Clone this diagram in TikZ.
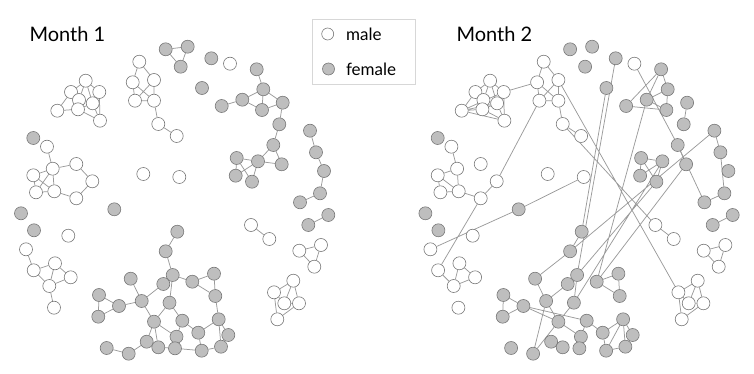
\documentclass[tikz,border=0pt]{standalone}
\usepackage{fontspec}
\setmainfont{Lato}
\usetikzlibrary{positioning}
\definecolor{femalegray}{RGB}{190,190,190}
\definecolor{rimgray}{RGB}{120,120,120}
\definecolor{linkgray}{RGB}{155,155,155}
\definecolor{boxgray}{RGB}{215,215,215}
\pgfdeclarelayer{bg}
\pgfsetlayers{bg,main}

% the same people in both months
\newcommand{\monthnodes}{%
  \node[male] (a1) at (85.7,80.7) {};
  \node[male] (a2) at (71,92) {};
  \node[male] (a3) at (99.3,92) {};
  \node[male] (a4) at (79,100) {};
  \node[male] (a5) at (92.7,103.3) {};
  \node[male] (a6) at (57.3,110.7) {};
  \node[male] (a7) at (78,109.3) {};
  \node[male] (a8) at (100,120.7) {};
  \node[male] (b1) at (139.3,61.7) {};
  \node[male] (b2) at (132.7,82.3) {};
  \node[male] (b3) at (154,80) {};
  \node[male] (b4) at (135,100.7) {};
  \node[male] (b5) at (154,100.7) {};
  \node[male] (b6) at (158.3,124) {};
  \node[male] (b7) at (176.7,136) {};
  \node[female] (t1) at (165.7,49.3) {};
  \node[female] (t2) at (187.7,46.7) {};
  \node[female] (t3) at (180.7,66.7) {};
  \node[female] (i1) at (211.3,58.3) {};
  \node[male] (i2) at (230,63.7) {};
  \node[female] (i3) at (202,88) {};
  \node[male] (i4) at (143.3,174) {};
  \node[male] (i5) at (179.3,177) {};
  \node[female] (i6) at (114.3,209.3) {};
  \node[female] (i7) at (21,213.3) {};
  \node[female] (i8) at (34,230.3) {};
  \node[male] (i9) at (68.3,235.7) {};
  \node[female] (i10) at (33.3,138) {};
  \node[female] (c1) at (256.7,69.3) {};
  \node[female] (c2) at (263.3,89.3) {};
  \node[female] (c3) at (242.3,99.7) {};
  \node[female] (c4) at (221.7,106) {};
  \node[female] (c5) at (262,110) {};
  \node[female] (c6) at (282.7,102.7) {};
  \node[female] (c7) at (279.3,124.3) {};
  \node[female] (c8) at (273.3,145) {};
  \node[female] (c9) at (236.7,158) {};
  \node[female] (c10) at (258,161.3) {};
  \node[female] (c11) at (281.7,164.3) {};
  \node[female] (c12) at (235.7,175.7) {};
  \node[female] (c13) at (252,181.7) {};
  \node[female] (r1) at (310,130.7) {};
  \node[female] (r2) at (316,152.3) {};
  \node[female] (r3) at (324,171) {};
  \node[female] (r4) at (320,193.3) {};
  \node[female] (r5) at (300,202.3) {};
  \node[female] (r6) at (308.3,225) {};
  \node[female] (r7) at (328.3,215) {};
  \node[male] (w1) at (251,225) {};
  \node[male] (w2) at (269.3,239) {};
  \node[male] (w3) at (299.3,250.7) {};
  \node[male] (w4) at (321,245) {};
  \node[male] (w5) at (314.3,266.7) {};
  \node[male] (w6) at (293.3,280.7) {};
  \node[male] (w7) at (274,292.3) {};
  \node[male] (w8) at (284.3,303.3) {};
  \node[male] (w9) at (299,303.3) {};
  \node[male] (w10) at (277.3,319.3) {};
  \node[male] (l1) at (47,146.7) {};
  \node[male] (l2) at (52.7,168.7) {};
  \node[male] (l3) at (76.3,164) {};
  \node[male] (l4) at (92.3,181.3) {};
  \node[male] (l5) at (33.3,175.3) {};
  \node[male] (l6) at (36,192.3) {};
  \node[male] (l7) at (54.3,191.3) {};
  \node[male] (l8) at (76.3,198.3) {};
  \node[male] (m1) at (26,249.3) {};
  \node[male] (m2) at (33.7,270.3) {};
  \node[male] (m3) at (55,263.3) {};
  \node[male] (m4) at (70.7,277.3) {};
  \node[male] (m5) at (49.3,286) {};
  \node[male] (m6) at (54,307.7) {};
  \node[female] (g1) at (177.3,231.7) {};
  \node[female] (g2) at (165.7,251.3) {};
  \node[female] (g3) at (172.7,275) {};
  \node[female] (g4) at (130.7,278.7) {};
  \node[female] (g5) at (163.3,284) {};
  \node[female] (g6) at (192.3,281.7) {};
  \node[female] (g7) at (214,273.7) {};
  \node[female] (g8) at (215.3,296) {};
  \node[female] (g9) at (99,295) {};
  \node[female] (g10) at (119,306) {};
  \node[female] (g11) at (141.7,301) {};
  \node[female] (g12) at (169.5,302.7) {};
  \node[female] (g13) at (98.3,316.7) {};
  \node[female] (g14) at (154,321.7) {};
  \node[female] (g15) at (182.3,320.7) {};
  \node[female] (g16) at (218.7,319.3) {};
  \node[female] (g17) at (176.5,336.7) {};
  \node[female] (g18) at (198.3,332.7) {};
  \node[female] (g19) at (228.3,335) {};
  \node[female] (g20) at (146.7,341.7) {};
  \node[female] (g21) at (158.3,347.3) {};
  \node[female] (g22) at (175,348.3) {};
  \node[female] (g23) at (201.7,350.7) {};
  \node[female] (g24) at (221,346.7) {};
  \node[female] (g25) at (106.7,348) {};
  \node[female] (g26) at (128.7,353.7) {};
}

\begin{document}
\begin{tikzpicture}[x=1pt,y=-1pt]
  \tikzstyle{male}=[circle, draw=rimgray, fill=white, line width=0.6pt,
minimum size=13pt, inner sep=0pt]
  \tikzstyle{female}=[male, fill=femalegray]
  \tikzstyle{link}=[draw=linkgray, line width=0.75pt]
  \useasboundingbox (0,0) rectangle (754,374);

  % titles
  \node[anchor=west, font=\fontsize{20}{24}\selectfont] (title1) at (26,34) {Month 1};
  \node[anchor=west, font=\fontsize{20}{24}\selectfont] (title2) at (453,34) {Month 2};

  % legend
  \node[draw=boxgray, line width=0.6pt, minimum width=103pt, minimum height=65pt] (legend) at (363.4,51.5) {};
  \node[male, minimum size=12pt] (keymale) at (327.7,34) {};
  \node[female, minimum size=12pt] (keyfemale) at (328.5,69) {};
  \node[right=12pt of keymale, font=\fontsize{17}{20}\selectfont, inner sep=0pt] (malelabel) {male};
  \node[right=11pt of keyfemale, font=\fontsize{17}{20}\selectfont, inner sep=0pt] (femalelabel) {female};

  % month 1
  \begin{scope}[name prefix=one-]
    \monthnodes
    \begin{pgfonlayer}{bg}
      \draw[link] (a1) -- (a2) (a1) -- (a3) (a1) -- (a4) (a1) -- (a5) (a2) -- (a4)
        (a2) -- (a6) (a2) -- (a7) (a3) -- (a5) (a3) -- (a8) (a4) -- (a5) (a4) -- (a7)
        (a5) -- (a7) (a6) -- (a7) (a7) -- (a8) (a5) -- (a8);
      \draw[link] (b1) -- (b2) (b1) -- (b3) (b2) -- (b4) (b2) -- (b5) (b3) -- (b4)
        (b3) -- (b5) (b4) -- (b5) (b5) -- (b6) (b6) -- (b7);
      \draw[link] (t1) -- (t2) -- (t3) -- (t1);
      \draw[link] (c1) -- (c2) (c4) -- (c3) (c3) -- (c2) (c3) -- (c5) (c2) -- (c5)
        (c2) -- (c6) (c5) -- (c6) (c6) -- (c7) (c7) -- (c8) (c8) -- (c10) (c8) -- (c11)
        (c10) -- (c11) (c9) -- (c10) (c9) -- (c12) (c9) -- (c13) (c12) -- (c10) (c10) -- (c13);
      \draw[link] (r1) -- (r2) -- (r3) -- (r4) -- (r5) (r6) -- (r7);
      \draw[link] (w1) -- (w2) (w3) -- (w4) (w3) -- (w5) (w4) -- (w5) (w7) -- (w6)
        (w6) -- (w8) (w6) -- (w9) (w7) -- (w8) (w7) -- (w10) (w10) -- (w9) (w8) -- (w9);
      \draw[link] (l1) -- (l2) -- (l3) -- (l4) -- (l8) -- (l7) (l2) -- (l5) (l2) -- (l6)
        (l2) -- (l7) (l5) -- (l6) (l5) -- (l7) (l6) -- (l7);
      \draw[link] (m1) -- (m2) (m2) -- (m3) (m2) -- (m5) (m3) -- (m4) (m3) -- (m5)
        (m4) -- (m5) (m5) -- (m6);
      \draw[link] (g1) -- (g2) -- (g3) -- (g5) -- (g11) (g4) -- (g11) (g11) -- (g10)
        (g9) -- (g10) (g9) -- (g13) (g13) -- (g10) (g11) -- (g14) (g12) -- (g14)
        (g3) -- (g12) (g3) -- (g6) (g6) -- (g7) (g6) -- (g8) (g7) -- (g8) (g8) -- (g16)
        (g12) -- (g15) (g15) -- (g17) (g15) -- (g18) (g18) -- (g16) (g16) -- (g24)
        (g16) -- (g19) (g18) -- (g23) (g23) -- (g24) (g24) -- (g19) (g14) -- (g20)
        (g14) -- (g21) (g14) -- (g17) (g20) -- (g26) (g25) -- (g26) (g20) -- (g21)
        (g21) -- (g22) (g22) -- (g23);
    \end{pgfonlayer}
  \end{scope}

  % month 2
  \begin{scope}[xshift=404.4pt, name prefix=two-]
    \monthnodes
    \begin{pgfonlayer}{bg}
      \draw[link] (a1) -- (a2) (a1) -- (a3) (a1) -- (a4) (a1) -- (a5) (a2) -- (a4)
        (a2) -- (a6) (a2) -- (a7) (a3) -- (a5) (a3) -- (a8) (a4) -- (a5) (a4) -- (a7)
        (a5) -- (a7) (a6) -- (a7) (a7) -- (a8) (a5) -- (a8) (a6) -- (a3) (a6) -- (a5)
        (a6) -- (a8);
      \draw[link] (b1) -- (b2) (b1) -- (b3) (b2) -- (b4) (b2) -- (b5) (b3) -- (b4)
        (b3) -- (b5) (b4) -- (b5) (b5) -- (b6) (b6) -- (b7);
      \draw[link] (c1) -- (c4) (c1) -- (c3) (c1) -- (c2) (c2) -- (c3) (c4) -- (c5)
        (c3) -- (c5) (c2) -- (c5) (c6) -- (c7) (c8) -- (c11) (c9) -- (c10) (c9) -- (c12)
        (c10) -- (c12) (c9) -- (c13) (c10) -- (c13);
      \draw[link] (r1) -- (r2) -- (r4) -- (r5) (r6) -- (r7);
      \draw[link] (w1) -- (w2) (w3) -- (w4) (w3) -- (w5) (w4) -- (w5) (w7) -- (w6)
        (w6) -- (w8) (w6) -- (w9) (w7) -- (w8) (w7) -- (w10) (w10) -- (w9) (w8) -- (w9);
      \draw[link] (l1) -- (l2) (l2) -- (l5) (l2) -- (l7) (l5) -- (l7) (l5) -- (l6)
        (l6) -- (l7) (l7) -- (l8) -- (l4);
      \draw[link] (m2) -- (m5) (m3) -- (m4) (m3) -- (m5) (m4) -- (m5);
      \draw[link] (g1) -- (g2) -- (g4) -- (g11) -- (g5) (g9) -- (g10) (g9) -- (g13)
        (g13) -- (g10) (g10) -- (g14) (g10) -- (g15) (g11) -- (g14) (g11) -- (g26)
        (g12) -- (g14) (g3) -- (g12) (g14) -- (g26) (g14) -- (g17) (g15) -- (g17)
        (g15) -- (g18) (g18) -- (g16) (g16) -- (g23) (g18) -- (g23) (g16) -- (g24)
        (g16) -- (g19) (g19) -- (g24) (g23) -- (g24) (g17) -- (g22) (g20) -- (g21)
        (g6) -- (g7) (g6) -- (g8) (g7) -- (g8);
      % ties that are new in month 2
      \draw[link] (a3) -- (b2) (l4) -- (b4) (m1) -- (i6) -- (i5) (m2) -- (l8)
        (b3) -- (w7) (b6) -- (w1) (c3) -- (g6) (i3) -- (g1) (i1) -- (g3) (i2) -- (c8)
        (c8) -- (r5) (r1) -- (g2) (c10) -- (g12) (c11) -- (g6) (c13) -- (g3);
    \end{pgfonlayer}
  \end{scope}
\end{tikzpicture}
\end{document}
